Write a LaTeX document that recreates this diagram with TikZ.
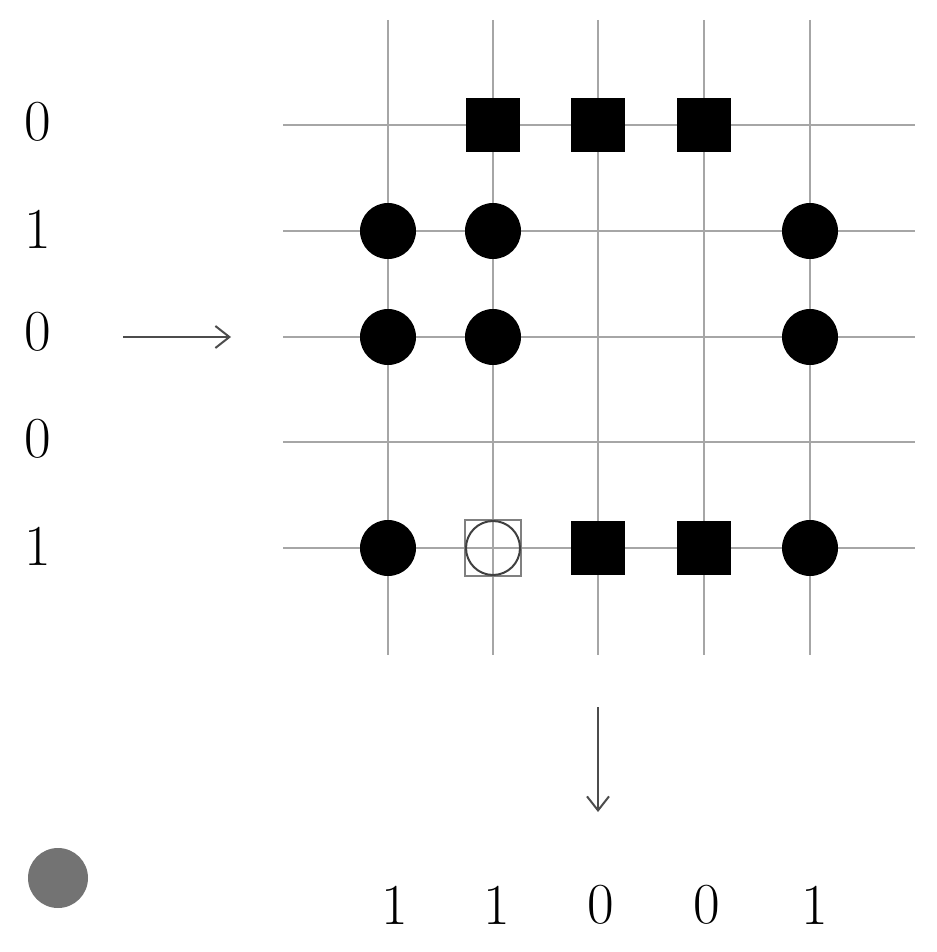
\documentclass[tikz,border=0pt]{standalone}
\begin{document}
\begin{tikzpicture}[x=1pt,y=-1pt,
  gridline/.style={draw=black!35,line width=2.2pt},
  sq/.style={fill=black,minimum size=54pt,inner sep=0pt,draw=none},
  dot/.style={circle,fill=black,minimum size=56pt,inner sep=0pt},
  lbl/.style={font=\fontsize{58}{60}\selectfont,inner sep=0pt},
  arr/.style={draw=black!70,line width=2pt,-{Straight Barb[length=14pt,width=22pt]}}]
\useasboundingbox (0,0) rectangle (936,952);
\usetikzlibrary{arrows.meta}
\foreach \x in {388,493,598,704,810} \draw[gridline] (\x,20) -- (\x,655);
\foreach \y in {125,231,337,442,548} \draw[gridline] (283,\y) -- (915,\y);
\node[sq] (s1) at (493,125) {};
\node[sq] (s2) at (598,125) {};
\node[sq] (s3) at (704,125) {};
\node[dot] (c11) at (388,231) {};
\node[dot] (c12) at (493,231) {};
\node[dot] (c15) at (810,231) {};
\node[dot] (c21) at (388,337) {};
\node[dot] (c22) at (493,337) {};
\node[dot] (c25) at (810,337) {};
\node[dot] (c41) at (388,548) {};
\node[draw=black!50,line width=1.2pt,minimum size=56pt,inner sep=0pt] (h) at (493,548) {};
\node[circle,draw=black!75,line width=2pt,minimum size=54pt,inner sep=0pt] (hc) at (493,548) {};
\node[sq] (s43) at (598,548) {};
\node[sq] (s44) at (704,548) {};
\node[dot] (c45) at (810,548) {};
\node[lbl] (r0) at (38,122) {0};
\node[lbl] (r1) at (38,229) {1};
\node[lbl] (r2) at (38,332) {0};
\node[lbl] (r3) at (38,439) {0};
\node[lbl] (r4) at (38,546) {1};
\node[lbl] (b1) at (395,905) {1};
\node[lbl] (b2) at (497,905) {1};
\node[lbl] (b3) at (601,905) {0};
\node[lbl] (b4) at (707,905) {0};
\node[lbl] (b5) at (815,905) {1};
\coordinate (a1) at (123,337); \coordinate (a2) at (231,337);
\draw[arr] (a1) -- (a2);
\coordinate (d1) at (598,707); \coordinate (d2) at (598,812);
\draw[arr] (d1) -- (d2);
\node[circle,fill=black!55,minimum size=60pt,inner sep=0pt] (g) at (58,878) {};
\end{tikzpicture}
\end{document}
